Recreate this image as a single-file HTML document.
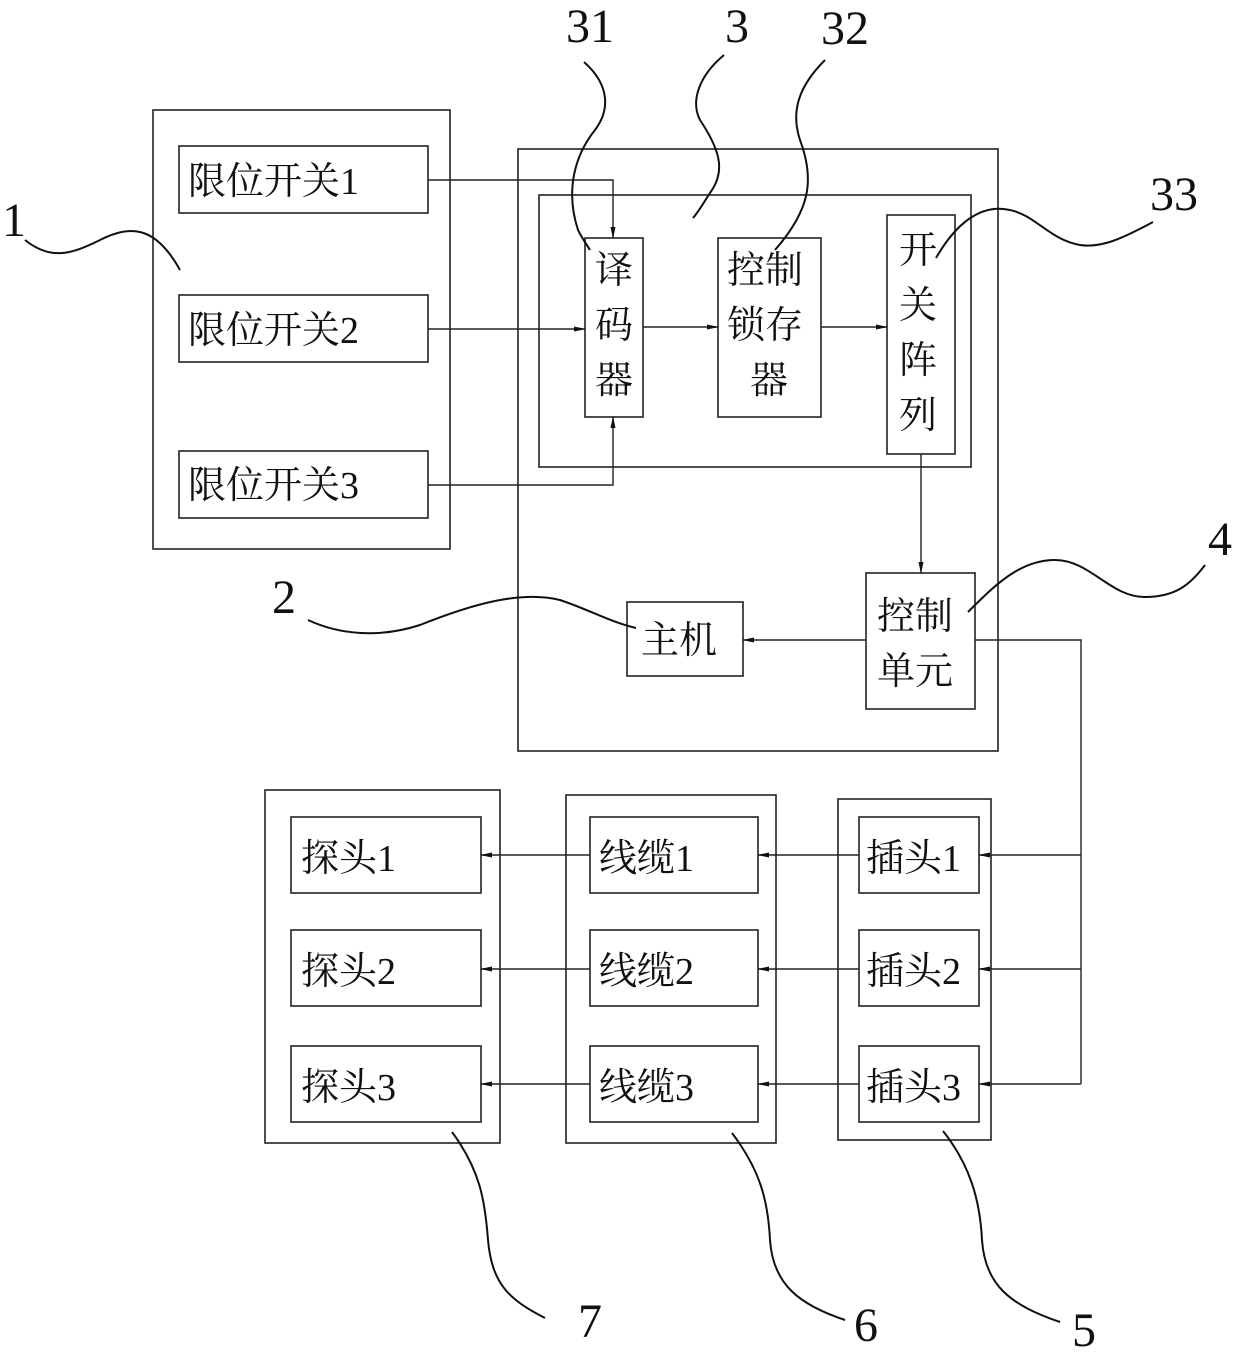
<!DOCTYPE html>
<html><head><meta charset="utf-8"><style>
html,body{margin:0;padding:0;background:#fff;}
svg{display:block;}
text{font-family:"Liberation Serif","Noto Serif CJK SC",serif;fill:#111;}
.b{font-size:38px;}
.n{font-size:48px;}
</style></head><body>
<svg width="1240" height="1354" viewBox="0 0 1240 1354" xmlns="http://www.w3.org/2000/svg">
<defs>
<marker id="a" markerWidth="12" markerHeight="8" refX="11" refY="4" orient="auto" markerUnits="userSpaceOnUse">
<path d="M0,1.5 L12,4 L0,6.5 Z" fill="#111"/>
</marker>
</defs>
<g fill="none" stroke="#222" stroke-width="1.6">
<rect x="153" y="110" width="297" height="439"/>
<rect x="179" y="146" width="249" height="67"/>
<rect x="179" y="295" width="249" height="67"/>
<rect x="179" y="451" width="249" height="67"/>
<rect x="518" y="149" width="480" height="602"/>
<rect x="539" y="195" width="432" height="272"/>
<rect x="585" y="238" width="58" height="179"/>
<rect x="718" y="238" width="103" height="179"/>
<rect x="887" y="215" width="68" height="239"/>
<rect x="866" y="573" width="109" height="136"/>
<rect x="627" y="602" width="116" height="74"/>
<rect x="265" y="790" width="235" height="353"/>
<rect x="291" y="817" width="190" height="76"/>
<rect x="291" y="930" width="190" height="76"/>
<rect x="291" y="1046" width="190" height="76"/>
<rect x="566" y="795" width="210" height="348"/>
<rect x="590" y="817" width="168" height="76"/>
<rect x="590" y="930" width="168" height="76"/>
<rect x="590" y="1046" width="168" height="76"/>
<rect x="838" y="799" width="153" height="341"/>
<rect x="859" y="817" width="120" height="76"/>
<rect x="859" y="930" width="120" height="76"/>
<rect x="859" y="1046" width="120" height="76"/>
</g>
<g fill="none" stroke="#222" stroke-width="1.4">
<path d="M428,180 H613 V238" marker-end="url(#a)"/>
<path d="M428,329 H585" marker-end="url(#a)"/>
<path d="M428,485 H613 V417" marker-end="url(#a)"/>
<path d="M643,327 H718" marker-end="url(#a)"/>
<path d="M821,327 H887" marker-end="url(#a)"/>
<path d="M921,454 V573" marker-end="url(#a)"/>
<path d="M866,640 H743" marker-end="url(#a)"/>
<path d="M975,640 H1081 V1084"/>
<path d="M1081,855 H979" marker-end="url(#a)"/>
<path d="M1081,969 H979" marker-end="url(#a)"/>
<path d="M1081,1084 H979" marker-end="url(#a)"/>
<path d="M859,855 H758" marker-end="url(#a)"/>
<path d="M859,969 H758" marker-end="url(#a)"/>
<path d="M859,1084 H758" marker-end="url(#a)"/>
<path d="M590,855 H481" marker-end="url(#a)"/>
<path d="M590,969 H481" marker-end="url(#a)"/>
<path d="M590,1084 H481" marker-end="url(#a)"/>
</g>
<g fill="none" stroke="#111" stroke-width="2">
<path d="M25,240 C50,260 70,255 100,240 C130,225 155,225 180,270"/>
<path d="M308,620 C340,635 380,638 420,625 C470,605 520,590 560,600 C590,610 610,622 636,628"/>
<path d="M584,62 C610,85 610,110 595,130 C575,155 565,190 578,230 C582,238 585,242 590,250"/>
<path d="M724,55 C700,75 690,100 700,120 C720,150 725,170 712,190 C705,200 700,210 693,218"/>
<path d="M825,60 C800,85 790,110 800,140 C815,180 810,210 775,250"/>
<path d="M1153,222 C1120,240 1100,248 1080,245 C1050,240 1035,215 1010,210 C980,203 955,225 936,258"/>
<path d="M1205,565 C1190,585 1175,597 1145,597 C1110,597 1090,560 1055,560 C1020,560 995,585 968,612"/>
<path d="M452,1132 C480,1170 485,1200 488,1240 C492,1285 510,1300 545,1318"/>
<path d="M732,1133 C760,1170 768,1200 770,1240 C773,1285 800,1305 845,1320"/>
<path d="M943,1131 C970,1165 980,1200 982,1240 C985,1285 1010,1305 1060,1322"/>
</g>
<g class="b">
<text x="188" y="194">限位开关1</text>
<text x="188" y="343">限位开关2</text>
<text x="188" y="498">限位开关3</text>
<text x="595" y="283">译</text>
<text x="595" y="338">码</text>
<text x="595" y="393">器</text>
<text x="727" y="283">控制</text>
<text x="727" y="338">锁存</text>
<text x="750" y="393">器</text>
<text x="899" y="263">开</text>
<text x="899" y="318">关</text>
<text x="899" y="373">阵</text>
<text x="899" y="428">列</text>
<text x="877" y="629">控制</text>
<text x="877" y="684">单元</text>
<text x="641" y="653">主机</text>
<text x="301" y="871">探头1</text>
<text x="301" y="984">探头2</text>
<text x="301" y="1100">探头3</text>
<text x="599" y="871">线缆1</text>
<text x="599" y="984">线缆2</text>
<text x="599" y="1100">线缆3</text>
<text x="866" y="871">插头1</text>
<text x="866" y="984">插头2</text>
<text x="866" y="1100">插头3</text>
</g>
<g class="n">
<text x="2" y="236">1</text>
<text x="272" y="613">2</text>
<text x="725" y="42">3</text>
<text x="566" y="42">31</text>
<text x="821" y="44">32</text>
<text x="1150" y="210">33</text>
<text x="1208" y="555">4</text>
<text x="1072" y="1346">5</text>
<text x="854" y="1341">6</text>
<text x="578" y="1337">7</text>
</g>
</svg>
</body></html>
